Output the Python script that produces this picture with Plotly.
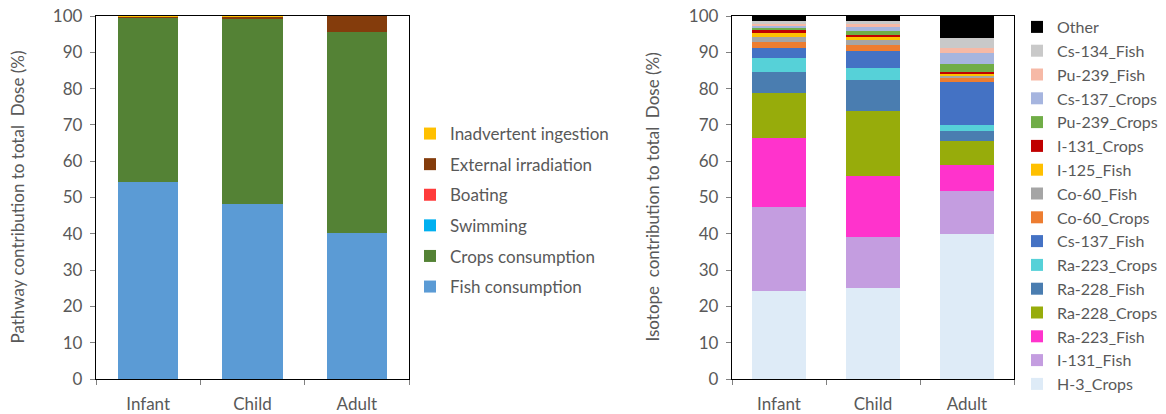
import plotly.graph_objects as go

groups = ["Infant", "Child", "Adult"]

# Left chart: pathway contributions (%)
pathway_names = ["Fish consumption", "Crops consumption", "Swimming", "Boating",
                 "External irradiation", "Inadvertent ingestion"]
fish_consumption = [54.2, 48.3, 40.2]
crops_consumption = [45.3, 51.1, 55.3]
swimming = [0.0, 0.0, 0.0]
boating = [0.0, 0.0, 0.0]
external_irradiation = [0.3, 0.35, 4.5]
inadvertent_ingestion = [0.2, 0.25, 0.0]
pathway_colors = ["#5B9BD5", "#548235", "#00B0F0", "#FF3B3B", "#843C0C", "#FFC000"]

# Right chart: isotope contributions (%)
isotope_names = ["H-3_Crops", "I-131_Fish", "Ra-223_Fish", "Ra-228_Crops", "Ra-228_Fish",
                 "Ra-223_Crops", "Cs-137_Fish", "Co-60_Crops", "Co-60_Fish", "I-125_Fish",
                 "I-131_Crops", "Pu-239_Crops", "Cs-137_Crops", "Pu-239_Fish", "Cs-134_Fish",
                 "Other"]
h3_crops = [24.3, 25.0, 39.9]
i131_fish = [23.1, 14.1, 11.9]
ra223_fish = [19.1, 16.8, 7.1]
ra228_crops = [12.2, 17.8, 6.7]
ra228_fish = [5.8, 8.6, 2.8]
ra223_crops = [3.8, 3.3, 1.5]
cs137_fish = [3.0, 4.8, 12.0]
co60_crops = [1.6, 1.5, 0.9]
co60_fish = [1.4, 1.5, 0.8]
i125_fish = [1.1, 0.9, 0.6]
i131_crops = [0.7, 0.6, 0.5]
pu239_crops = [0.8, 0.9, 2.1]
cs137_crops = [0.5, 1.1, 2.9]
pu239_fish = [0.5, 0.9, 1.6]
cs134_fish = [0.6, 0.9, 2.7]
other = [1.5, 1.3, 6.0]
isotope_colors = ["#DEEBF7", "#C49DE0", "#FF33CC", "#97AC0B", "#4A7DB0", "#56D1D8",
                  "#4472C4", "#ED7D31", "#A5A5A5", "#FFC000", "#C00000", "#70AD47",
                  "#A6B5DF", "#F6B9A6", "#C9C9C9", "#000000"]

pathway_values = [fish_consumption, crops_consumption, swimming, boating,
                  external_irradiation, inadvertent_ingestion]
isotope_values = [h3_crops, i131_fish, ra223_fish, ra228_crops, ra228_fish, ra223_crops,
                  cs137_fish, co60_crops, co60_fish, i125_fish, i131_crops, pu239_crops,
                  cs137_crops, pu239_fish, cs134_fish, other]

FONT = "Lato"
GRAY = "#595959"

fig = go.Figure()
for i, (name, vals, col) in enumerate(zip(pathway_names, pathway_values, pathway_colors)):
    fig.add_trace(go.Bar(x=groups, y=vals, name=name, marker_color=col,
                         marker_line_width=0, xaxis="x", yaxis="y",
                         legend="legend", legendgroup=name, legendrank=100 - i))
for i, (name, vals, col) in enumerate(zip(isotope_names, isotope_values, isotope_colors)):
    fig.add_trace(go.Bar(x=groups, y=vals, name=name, marker_color=col,
                         marker_line_width=0, xaxis="x2", yaxis="y2",
                         legend="legend2", legendrank=100 - i))

W, H = 1166, 414
top, bottom = 16, 379
ydom = [1 - bottom / H, 1 - top / H]

axis_common = dict(showline=True, linecolor="#000000", linewidth=1.3, mirror=True,
                   tickfont=dict(family=FONT, size=17, color=GRAY),
                   showgrid=False, zeroline=False)
xcommon = dict(axis_common, type="category", ticks="outside", tickson="boundaries",
               ticklen=5, tickcolor="#808080", ticklabelstandoff=9)
ycommon = dict(axis_common, range=[0, 100], dtick=10, ticks="outside", ticklen=5,
               tickcolor="#808080", ticklabelstandoff=4)

fig.update_layout(
    width=W, height=H,
    margin=dict(l=0, r=0, t=0, b=0, autoexpand=False),
    paper_bgcolor="white", plot_bgcolor="white",
    barmode="stack", bargap=0.42,
    font=dict(family=FONT, color=GRAY),
    xaxis=dict(xcommon, domain=[96 / W, 409 / W], anchor="y"),
    yaxis=dict(ycommon, domain=ydom, anchor="x"),
    xaxis2=dict(xcommon, domain=[732 / W, 1014 / W], anchor="y2"),
    yaxis2=dict(ycommon, domain=ydom, anchor="x2"),
    legend=dict(x=410 / W, y=1 - 116 / H, xanchor="left", yanchor="top",
                traceorder="grouped", tracegroupgap=5.5,
                font=dict(family=FONT, size=17, color=GRAY), bgcolor="rgba(0,0,0,0)"),
    legend2=dict(x=1017 / W, y=1 - 10 / H, xanchor="left", yanchor="top",
                 traceorder="normal",
                 font=dict(family=FONT, size=16, color=GRAY), bgcolor="rgba(0,0,0,0)"),
    annotations=[
        dict(text="Pathway contribution to total  Dose (%)", textangle=-90,
             x=17 / W, y=(ydom[0] + ydom[1]) / 2, xref="paper", yref="paper",
             xanchor="center", yanchor="middle",
             showarrow=False, font=dict(family=FONT, size=17, color=GRAY)),
        dict(text="Isotope  contribution to total  Dose (%)", textangle=-90,
             x=652 / W, y=(ydom[0] + ydom[1]) / 2, xref="paper", yref="paper",
             xanchor="center", yanchor="middle",
             showarrow=False, font=dict(family=FONT, size=17, color=GRAY)),
    ],
)

fig.write_html("out.html", config={"displayModeBar": False},
               post_script="document.body.style.margin='0';")
